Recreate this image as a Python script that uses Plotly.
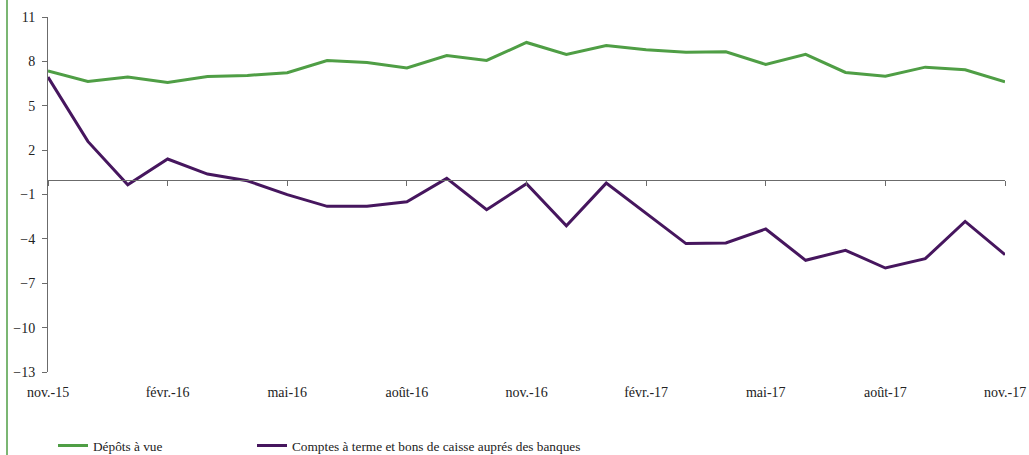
import plotly.graph_objects as go

months = ["nov.-15", "déc.-15", "janv.-16", "févr.-16", "mars-16", "avr.-16", "mai-16",
          "juin-16", "juil.-16", "août-16", "sept.-16", "oct.-16", "nov.-16", "déc.-16",
          "janv.-17", "févr.-17", "mars-17", "avr.-17", "mai-17", "juin-17", "juil.-17",
          "août-17", "sept.-17", "oct.-17", "nov.-17"]

depots_a_vue = [7.36, 6.64, 6.94, 6.58, 6.98, 7.05, 7.23, 8.06, 7.93, 7.55, 8.40, 8.06, 9.28,
                8.47, 9.07, 8.78, 8.62, 8.65, 7.79, 8.47, 7.25, 7.00, 7.61, 7.43, 6.62]

comptes_terme = [6.94, 2.59, -0.34, 1.40, 0.38, -0.07, -1.01, -1.80, -1.80, -1.49, 0.09, -2.03,
                 -0.27, -3.11, -0.23, -2.25, -4.32, -4.28, -3.33, -5.45, -4.77, -5.97, -5.34,
                 -2.82, -5.07]

tick_months = months[::3]
y_ticks = [11, 8, 5, 2, -1, -4, -7, -10, -13]

green = "#4F9E45"
purple = "#46165E"
axis_col = "#6b6b6b"
txt_col = "#222222"
font_fam = "Liberation Serif"

fig = go.Figure()
fig.add_trace(go.Scatter(x=months, y=depots_a_vue, mode="lines", name="Dépôts à vue",
                         line=dict(color=green, width=3), legend="legend"))
fig.add_trace(go.Scatter(x=months, y=comptes_terme, mode="lines",
                         name="Comptes à terme et bons de caisse auprés des banques",
                         line=dict(color=purple, width=3), xaxis="x2", legend="legend2"))

leg_common = dict(orientation="h", xanchor="left", yanchor="middle",
                  xref="container", yref="container", y=0.02,
                  font=dict(family=font_fam, size=13.3, color=txt_col), itemwidth=30,
                  bgcolor="rgba(0,0,0,0)")

fig.update_layout(
    template="none",
    width=1029, height=455,
    margin=dict(l=48, r=24, t=17, b=83, autoexpand=False),
    paper_bgcolor="white", plot_bgcolor="white",
    font=dict(family=font_fam, size=14, color=txt_col),
    showlegend=True,
    legend=dict(x=53 / 1029, **leg_common),
    legend2=dict(x=252 / 1029, **leg_common),
    xaxis=dict(type="category", range=[0, 24], tickvals=tick_months, ticktext=tick_months,
               showline=False, ticks="", showgrid=False, zeroline=False, automargin=False,
               ticklabelstandoff=10,
               tickfont=dict(family=font_fam, size=14, color=txt_col)),
    xaxis2=dict(type="category", range=[0, 24], overlaying="x", anchor="free",
                position=13 / 24, tickvals=tick_months, showticklabels=False,
                showline=True, linecolor=axis_col, linewidth=1, ticks="outside",
                ticklen=5, tickcolor=axis_col, showgrid=False, zeroline=False,
                automargin=False),
    yaxis=dict(range=[-13, 11], tickvals=y_ticks, showline=True, linecolor=axis_col,
               linewidth=1, ticks="outside", ticklen=5, tickcolor=axis_col,
               showgrid=False, zeroline=False, automargin=False, ticklabelstandoff=4,
               tickfont=dict(family=font_fam, size=14, color=txt_col)),
)

fig.add_shape(type="line", xref="paper", yref="paper",
              x0=(7 - 48) / 957, x1=(7 - 48) / 957, y0=-83 / 355, y1=1 + 17 / 355,
              line=dict(color=green, width=1.5))

fig.write_html("out.html", config={"displayModeBar": False},
               post_script="document.body.style.margin='0';document.body.style.overflow='hidden';")
